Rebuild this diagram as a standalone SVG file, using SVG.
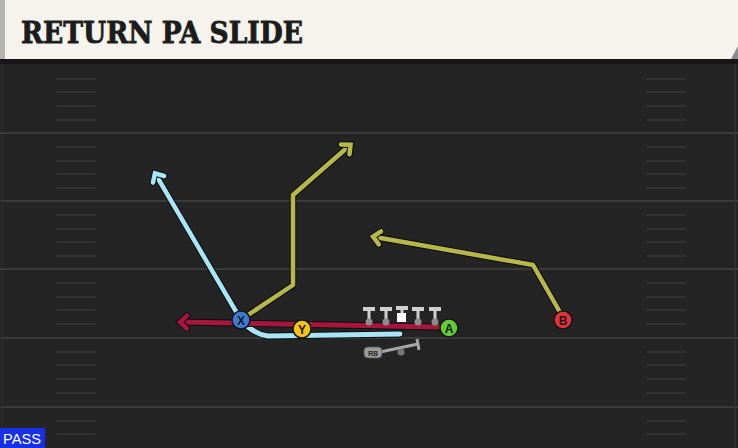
<svg xmlns="http://www.w3.org/2000/svg" width="738" height="448" viewBox="0 0 738 448">
<style>
.yl{stroke:#3b3b3b;stroke-width:2}
.hm{stroke:#323232;stroke-width:2;stroke-linecap:round}
.out{fill:none;stroke:#0d0d14;stroke-linecap:round;stroke-linejoin:round}
.rt{fill:none;stroke-linecap:round;stroke-linejoin:round}
.pl{stroke:#161616;stroke-width:1.5}
.lt{font-family:"Liberation Sans",Arial,sans-serif;font-weight:bold;font-size:12px;fill:#1a1a1a;text-anchor:middle}
.ol{fill:#cfcfcf}
.olc{fill:#8c8c8c}
.ah{fill:none;stroke-linecap:round;stroke-linejoin:miter}
</style>
<defs>
<marker id="aB" viewBox="-15 -15 30 30" refX="0" refY="0" markerWidth="30" markerHeight="30" markerUnits="userSpaceOnUse" orient="auto" overflow="visible"><path class="ah" d="M-5,-6.5 L2,0 L-5,6.5" stroke="#0d0d14" stroke-width="6.5"/><path class="ah" d="M-5,-6.5 L2,0 L-5,6.5" stroke="#a8e6f5" stroke-width="4.5"/></marker>
<marker id="aY" viewBox="-15 -15 30 30" refX="0" refY="0" markerWidth="30" markerHeight="30" markerUnits="userSpaceOnUse" orient="auto" overflow="visible"><path class="ah" d="M-5,-6.5 L2,0 L-5,6.5" stroke="#0d0d14" stroke-width="6.5"/><path class="ah" d="M-5,-6.5 L2,0 L-5,6.5" stroke="#b8b84a" stroke-width="4.5"/></marker>
<marker id="aR" viewBox="-15 -15 30 30" refX="0" refY="0" markerWidth="30" markerHeight="30" markerUnits="userSpaceOnUse" orient="auto" overflow="visible"><path class="ah" d="M-5,-6.5 L2,0 L-5,6.5" stroke="#0d0d14" stroke-width="6.5"/><path class="ah" d="M-5,-6.5 L2,0 L-5,6.5" stroke="#a5173b" stroke-width="4.5"/></marker>
</defs>
<rect x="0" y="0" width="738" height="448" fill="#242424"/>
<g id="field">
<line class="yl" x1="0" y1="133" x2="738" y2="133"/>
<line class="yl" x1="0" y1="201" x2="738" y2="201"/>
<line class="yl" x1="0" y1="269" x2="738" y2="269"/>
<line class="yl" x1="0" y1="338" x2="738" y2="338"/>
<line class="yl" x1="0" y1="407" x2="738" y2="407"/>
<line x1="735" y1="60" x2="735" y2="448" stroke="#333" stroke-width="1.5"/>
<line x1="2" y1="60" x2="2" y2="448" stroke="#2e2e2e" stroke-width="1.5"/>
<g id="hashes">
<path class="hm" d="M57,79H95M57,92H95M57,106H95M57,120H95M57,147H95M57,161H95M57,174H95M57,188H95M57,215H95M57,229H95M57,242H95M57,256H95M57,283H95M57,297H95M57,310H95M57,324H95M57,352H95M57,365H95M57,379H95M57,393H95M57,421H95M57,434H95"/>
<path class="hm" d="M647,79H685M647,92H685M647,106H685M647,120H685M647,147H685M647,161H685M647,174H685M647,188H685M647,215H685M647,229H685M647,242H685M647,256H685M647,283H685M647,297H685M647,310H685M647,324H685M647,352H685M647,365H685M647,379H685M647,393H685M647,421H685M647,434H685"/>
</g>
</g>
<g id="banner">
<rect x="0" y="59" width="738" height="5" fill="#161616"/>
<path d="M0,0 H738 V48 L732,59 H0 Z" fill="#f5f3ec"/>
<path d="M738,46 L738,59 L731,59 Z" fill="#8a8c92"/>
<rect x="0" y="0" width="5" height="59" fill="#b4b4b0"/>
<text x="21" y="43" font-family="'DejaVu Serif','Liberation Serif',serif" font-weight="bold" font-size="30" fill="#1c1c1c" stroke="#1c1c1c" stroke-width="0.8" textLength="282" lengthAdjust="spacingAndGlyphs">RETURN PA SLIDE</text>
</g>
<g id="connectors">
<path class="out" stroke-width="7" d="M243,322 Q254,334 268,336 L400,334"/>
<path class="rt" stroke="#a8e6f5" stroke-width="5" d="M243,322 Q254,334 268,336 L400,334"/>
<path class="out" stroke-width="6.5" d="M241,320 L156,175"/>
<path class="rt" stroke="#a8e6f5" stroke-width="4.5" d="M241,320 L156,175" marker-end="url(#aB)"/>
<path class="out" stroke-width="6.5" d="M245,317 L293,285 L293,195 L349,146"/>
<path class="rt" stroke="#b8b84a" stroke-width="4.5" d="M245,317 L293,285 L293,195 L349,146" marker-end="url(#aY)"/>
<path class="out" stroke-width="6.5" d="M561,314 L533,265 L375,237"/>
<path class="rt" stroke="#b8b84a" stroke-width="4.5" d="M561,314 L533,265 L375,237" marker-end="url(#aY)"/>
<path class="out" stroke-width="7" d="M441,327 L182,322"/>
<path class="rt" stroke="#a5173b" stroke-width="5" d="M441,327 L182,322" marker-end="url(#aR)"/>
</g>
<g id="oline">
<g id="lt"><rect class="ol" x="363" y="307" width="12" height="4"/><rect class="ol" x="367.5" y="309" width="3" height="12"/><circle class="olc" cx="369" cy="322" r="3.5"/></g>
<g id="lg"><rect class="ol" x="380" y="307" width="12" height="4"/><rect class="ol" x="384.5" y="309" width="3" height="12"/><circle class="olc" cx="386" cy="322" r="3.5"/></g>
<g id="c"><rect class="ol" x="396" y="306" width="12" height="4"/><rect class="ol" x="400.5" y="308" width="3" height="7"/><rect x="397" y="313" width="9" height="9" fill="#ffffff"/></g>
<g id="rg"><rect class="ol" x="412" y="307" width="12" height="4"/><rect class="ol" x="416.5" y="309" width="3" height="12"/><circle class="olc" cx="418" cy="322" r="3.5"/></g>
<g id="rt"><rect class="ol" x="429" y="307" width="12" height="4"/><rect class="ol" x="433.5" y="309" width="3" height="12"/><circle class="olc" cx="435" cy="322" r="3.5"/></g>
</g>
<g id="rb">
<line x1="380" y1="352" x2="418" y2="344" stroke="#a6a6a6" stroke-width="3"/>
<line x1="417" y1="339" x2="419" y2="350" stroke="#a6a6a6" stroke-width="3"/>
<circle cx="401" cy="352" r="3.5" fill="#777"/>
<rect x="364" y="347" width="18" height="11" rx="4" fill="#9c9c9c" stroke="#555" stroke-width="0.8"/>
<text x="373" y="355.5" font-family="'Liberation Sans',Arial,sans-serif" font-weight="bold" font-size="7" fill="#2a2a2a" text-anchor="middle">RB</text>
</g>
<g id="X"><circle class="pl" cx="241" cy="320" r="9" fill="#3f7ad6"/><text class="lt" x="241" y="324.5">X</text></g>
<g id="Y"><circle class="pl" cx="302" cy="329" r="9" fill="#f3c21b"/><text class="lt" x="302" y="333.5">Y</text></g>
<g id="A"><circle class="pl" cx="449" cy="328" r="9" fill="#62cc35"/><text class="lt" x="449" y="332.5">A</text></g>
<g id="B"><circle class="pl" cx="563" cy="320" r="9" fill="#e8303c"/><text class="lt" x="563" y="324.5">B</text></g>
<g id="pass">
<rect x="0" y="428" width="45" height="20" fill="#1530e6"/>
<text x="22" y="444" font-family="'Liberation Sans',Arial,sans-serif" font-size="15" fill="#ffffff" text-anchor="middle" textLength="38" lengthAdjust="spacingAndGlyphs">PASS</text>
</g>
</svg>
